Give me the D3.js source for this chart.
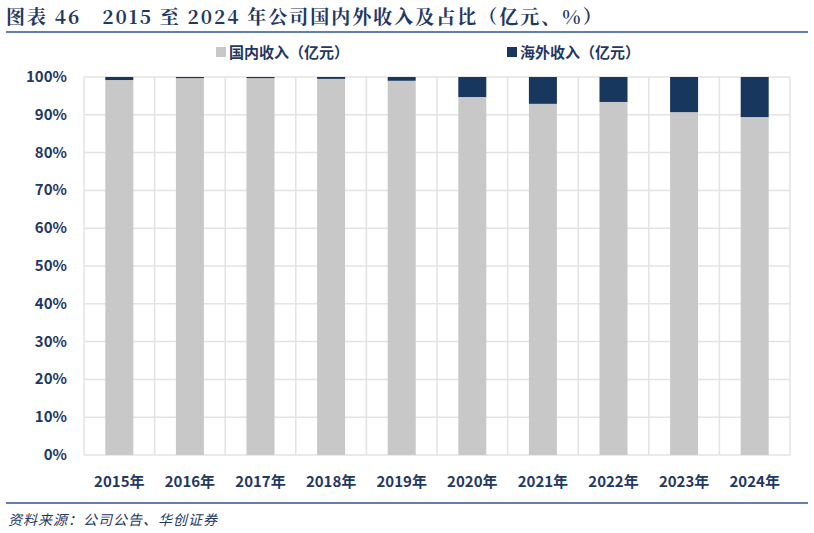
<!DOCTYPE html>
<html><head><meta charset="utf-8">
<script src="https://cdn.jsdelivr.net/npm/d3@7"></script>
<style>body{margin:0;background:#fff;}</style>
</head><body>
<script>
const years = ["2015年","2016年","2017年","2018年","2019年","2020年","2021年","2022年","2023年","2024年"];
const overseasPct = [0.8, 0.3, 0.3, 0.5, 1.0, 5.3, 7.1, 6.6, 9.3, 10.6];
const domesticPct = overseasPct.map(v => 100 - v);
const yTicks = [0,10,20,30,40,50,60,70,80,90,100];

const W = 814, H = 533;
const navy = "#1f3864";
const svg = d3.select("body").append("svg").attr("width", W).attr("height", H)
  .style("font-family", "'Noto Sans CJK SC', sans-serif");

// title + rules
svg.append("text").attr("x", 6).attr("y", 24).attr("fill", navy)
  .style("font-family", "'Noto Serif CJK SC','Liberation Serif','Noto Sans CJK SC',serif")
  .style("font-size", "19px").style("font-weight", "bold").style("letter-spacing", "2px")
  .text("图表 46　2015 至 2024 年公司国内外收入及占比（亿元、%）");
svg.append("line").attr("x1", 6).attr("x2", 808).attr("y1", 32).attr("y2", 32)
  .attr("stroke", "#2f5597").attr("stroke-width", 1.5);
svg.append("line").attr("x1", 6).attr("x2", 808).attr("y1", 503).attr("y2", 503)
  .attr("stroke", "#2f5597").attr("stroke-width", 1.5);
svg.append("text").attr("x", 8).attr("y", 525).attr("fill", navy)
  .style("font-size", "14px").style("font-style", "italic").style("letter-spacing", "1px")
  .text("资料来源：公司公告、华创证券");

const x = d3.scaleBand().domain(years).range([84, 790]);
const y = d3.scaleLinear().domain([0, 100]).range([455, 77]);

// grid
svg.append("g").selectAll("line").data(yTicks).join("line")
  .attr("x1", 84).attr("x2", 790).attr("y1", d => y(d)).attr("y2", d => y(d))
  .attr("stroke", "#e3e3e3").attr("stroke-width", 1.5);
svg.append("g").selectAll("line").data(years.concat(["end"])).join("line")
  .attr("x1", (d, i) => 84 + i * x.bandwidth()).attr("x2", (d, i) => 84 + i * x.bandwidth())
  .attr("y1", 77).attr("y2", 455)
  .attr("stroke", "#e3e3e3").attr("stroke-width", 1.5);

// y labels
svg.append("g").selectAll("text").data(yTicks).join("text")
  .attr("x", 67).attr("y", d => y(d) + 5).attr("text-anchor", "end")
  .attr("fill", navy).style("font-size", "15px").style("font-weight", "bold")
  .text(d => d + "%");

// x labels
svg.append("g").selectAll("text").data(years).join("text")
  .attr("x", d => x(d) + x.bandwidth() / 2).attr("y", 487).attr("text-anchor", "middle")
  .attr("fill", navy).style("font-size", "15px").style("font-weight", "bold")
  .text(d => d);

const bw = 28;
const g = svg.append("g");
g.selectAll(".dom").data(years).join("rect")
  .attr("x", d => x(d) + x.bandwidth() / 2 - bw / 2).attr("width", bw)
  .attr("y", (d, i) => y(domesticPct[i])).attr("height", (d, i) => y(0) - y(domesticPct[i]))
  .attr("fill", "#c8c8c8");
g.selectAll(".ovs").data(years).join("rect")
  .attr("x", d => x(d) + x.bandwidth() / 2 - bw / 2).attr("width", bw)
  .attr("y", y(100)).attr("height", (d, i) => y(domesticPct[i]) - y(100))
  .attr("fill", "#17375e");

// legend
const legend = [["国内收入（亿元）", "#c8c8c8", 216], ["海外收入（亿元）", "#17375e", 507]];
legend.forEach(([t, c, lx]) => {
  svg.append("rect").attr("x", lx).attr("y", 47).attr("width", 10).attr("height", 10).attr("fill", c);
  svg.append("text").attr("x", lx + 13).attr("y", 58).attr("fill", navy)
    .style("font-size", "15px").style("font-weight", "bold").text(t);
});
</script>
</body></html>
